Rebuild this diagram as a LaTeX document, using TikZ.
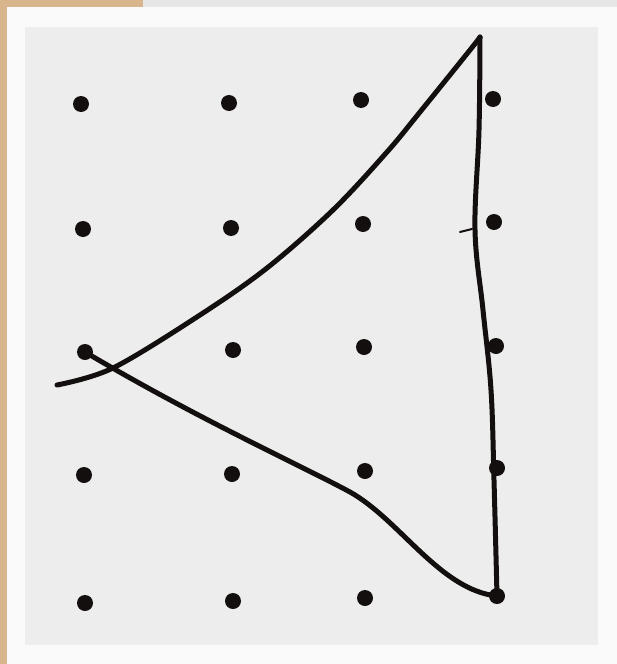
\documentclass[tikz,border=0pt]{standalone}
\usepackage{tikz}
\definecolor{PaperGray}{HTML}{EDEDED}
\definecolor{FrameWhite}{HTML}{FAFAFA}
\definecolor{TopGray}{HTML}{E6E6E6}
\definecolor{DeskTan}{HTML}{D8B58C}
\definecolor{InkBlack}{HTML}{140F0F}

\begin{document}
\begin{tikzpicture}[x=1pt,y=-1pt,
 dot/.style={circle,fill=InkBlack,inner sep=0pt,minimum size=16pt},
 pen/.style={draw=InkBlack,line width=5pt,line cap=round,line join=round}]
\useasboundingbox (0,0) rectangle (617,664);
% photo background
\fill[FrameWhite] (0,0) rectangle (617,664);
\fill[TopGray] (143,0) rectangle (617,7);
\fill[DeskTan] (0,0) rectangle (143,7);
\fill[DeskTan] (0,0) rectangle (7,664);
\fill[PaperGray] (25,27) rectangle (598,645);
% dot grid
\foreach \n/\x/\y in {a11/81/104,a12/229/103,a13/361/100,a14/493/99,
                      a21/83/229,a22/231/228,a23/363/224,a24/494/222,
                      a31/85/352,a32/233/350,a33/364/347,a34/496/346,
                      a41/84/475,a42/232/474,a43/365/471,a44/497/468,
                      a51/85/603,a52/233/601,a53/365/598,a54/497/596}
  \node[dot] (\n) at (\x,\y) {};
\coordinate (apex) at (480,37);
\coordinate (tail) at (57,385);
\coordinate (bend) at (350,492);
% hand-drawn triangle
\draw[pen] plot[smooth,tension=0.55] coordinates {(tail) (113,368) (200,315)
  (267,268) (333,210) (387,152) (420,112) (470,50) (apex)};
\draw[pen] (a31.center) .. controls (200,420) and (300,465) .. (bend)
  .. controls (400,520) and (440,590) .. (a54.center);
\draw[pen] plot[smooth,tension=0.6] coordinates {(apex) (479,130)
  (475,230) (483,310) (491,390) (494,480) (a54.center)};
% stray pen mark
\coordinate (nickA) at (460,232);
\coordinate (nickB) at (472,229);
\draw[InkBlack,line width=2pt,line cap=round] (nickA) -- (nickB);
\end{tikzpicture}
\end{document}
